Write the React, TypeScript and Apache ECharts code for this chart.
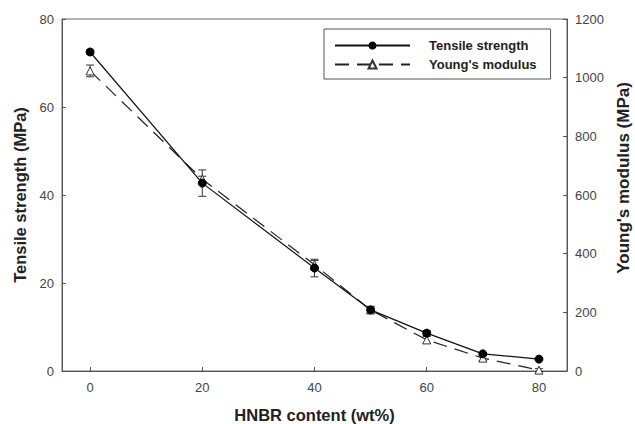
import React, { useEffect, useRef } from "react";
import * as echarts from "echarts";

const hnbr = [0, 20, 40, 50, 60, 70, 80];
const tensile = [72.5, 42.7, 23.4, 13.9, 8.6, 3.9, 2.7];
const tensileErr = [0.5, 3, 2, 0.8, 0.6, 0.3, 0.2];
const young = [1023, 654, 362, 208, 106, 44, 3];
const youngErr = [20, 10, 15, 10, 12, 8, 5];
const xTicks = [0, 20, 40, 60, 80];

export default function App() {
  const ref = useRef<HTMLDivElement>(null);
  useEffect(() => {
    const chart = echarts.init(ref.current!, null, { renderer: "svg" });
    const font = "Liberation Sans, Arial, sans-serif";
    const axisLine = { show: true, onZero: false, lineStyle: { color: "#555", width: 1 } };
    const errSeries = (vals: number[], errs: number[], yIdx: number) => ({
      type: "custom",
      yAxisIndex: yIdx,
      silent: true,
      z: 1,
      data: hnbr.map((x, i) => [x, vals[i] - errs[i], vals[i] + errs[i]]),
      renderItem: (params: any, api: any) => {
        const lo = api.coord([api.value(0), api.value(1)]);
        const hi = api.coord([api.value(0), api.value(2)]);
        const w = 4;
        const st = { stroke: "#333", lineWidth: 1 };
        return {
          type: "group",
          children: [
            { type: "line", shape: { x1: lo[0], y1: lo[1], x2: hi[0], y2: hi[1] }, style: st },
            { type: "line", shape: { x1: lo[0] - w, y1: lo[1], x2: lo[0] + w, y2: lo[1] }, style: st },
            { type: "line", shape: { x1: hi[0] - w, y1: hi[1], x2: hi[0] + w, y2: hi[1] }, style: st },
          ],
        };
      },
    });
    chart.setOption({
      animation: false,
      backgroundColor: "#fff",
      textStyle: { fontFamily: font },
      grid: {
        left: 62, right: 68, top: 19, bottom: 53,
        outerBoundsMode: "none", containLabel: false,
        show: true, borderColor: "#666", borderWidth: 1,
      },
      legend: {
        left: 324,
        top: 29,
        width: 233,
        orient: "vertical",
        borderColor: "#555",
        borderWidth: 1,
        borderRadius: 0,
        padding: [10, 14, 8, 10],
        itemWidth: 75,
        itemHeight: 10,
        itemGap: 6,
        textStyle: { fontFamily: font, fontWeight: "bold", fontSize: 13, color: "#222", padding: [0, 0, 0, 14] },
        data: [{ name: "Tensile strength" }, { name: "Young's modulus" }],
      },
      xAxis: {
        type: "value",
        min: -5,
        max: 85,
        name: "HNBR content (wt%)",
        nameLocation: "middle",
        nameGap: 35,
        nameTextStyle: { fontFamily: font, fontWeight: "bold", fontSize: 16.5, color: "#222" },
        axisLine,
        axisTick: { show: true, inside: true, length: 4, customValues: xTicks, lineStyle: { color: "#555" } },
        axisLabel: { customValues: xTicks, fontSize: 13, color: "#444", margin: 10, fontFamily: font },
        splitLine: { show: false },
      },
      yAxis: [
        {
          type: "value",
          min: 0,
          max: 80,
          interval: 20,
          name: "Tensile strength (MPa)",
          nameLocation: "middle",
          nameGap: 34,
          nameRotate: 90,
          nameTextStyle: { fontFamily: font, fontWeight: "bold", fontSize: 16.5, color: "#222" },
          axisLine,
          axisTick: { show: true, inside: true, length: 4, lineStyle: { color: "#555" } },
          axisLabel: { fontSize: 13, color: "#444", margin: 8, fontFamily: font },
          splitLine: { show: false },
        },
        {
          type: "value",
          min: 0,
          max: 1200,
          interval: 200,
          position: "right",
          name: "Young's modulus (MPa)",
          nameLocation: "middle",
          nameGap: 48,
          nameRotate: 90,
          nameTextStyle: { fontFamily: font, fontWeight: "bold", fontSize: 17, color: "#222", padding: [0, 0, 0, 34] },
          axisLine,
          axisTick: { show: true, inside: true, length: 4, lineStyle: { color: "#555" } },
          axisLabel: { fontSize: 13, color: "#444", margin: 8, fontFamily: font, formatter: (v: number) => String(v) },
          splitLine: { show: false },
        },
      ],
      series: [
        errSeries(tensile, tensileErr, 0),
        errSeries(young, youngErr, 1),
        {
          name: "Young's modulus",
          type: "line",
          yAxisIndex: 1,
          z: 3,
          data: hnbr.map((x, i) => [x, young[i]]),
          symbol: "triangle",
          symbolSize: 8,
          itemStyle: { color: "#fff", borderColor: "#333", borderWidth: 1 },
          lineStyle: { color: "#222", width: 1.2, type: [14, 8] },
        },
        {
          name: "Tensile strength",
          type: "line",
          yAxisIndex: 0,
          z: 4,
          data: hnbr.map((x, i) => [x, tensile[i]]),
          symbol: "circle",
          symbolSize: 8,
          itemStyle: { color: "#000", borderColor: "#000" },
          lineStyle: { color: "#111", width: 1.2 },
        },
      ],
    });
    return () => chart.dispose();
  }, []);
  return <div ref={ref} style={{ position: "fixed", left: 0, top: 0, width: 635, height: 424 }} />;
}
